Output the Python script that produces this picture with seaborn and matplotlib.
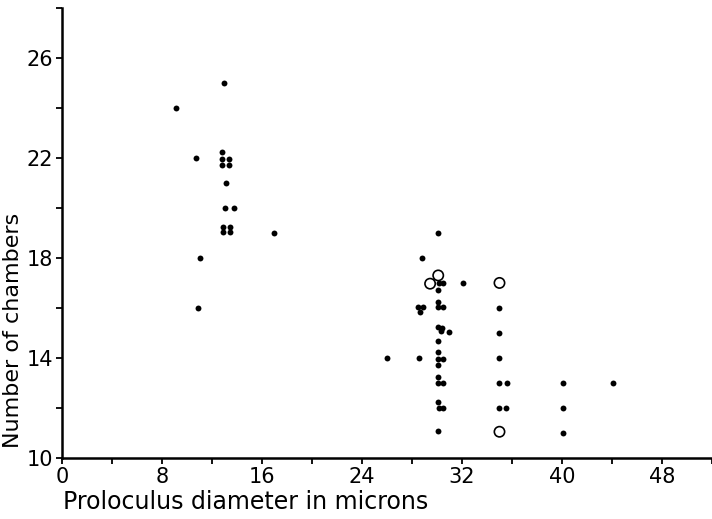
import matplotlib
matplotlib.use("Agg")
import matplotlib.pyplot as plt
import seaborn as sns
import pandas as pd
from matplotlib.ticker import MultipleLocator

# Proloculus diameter (microns) vs number of chambers
x_filled = [13.0, 9.1, 12.8, 12.8, 13.4, 12.8, 13.4, 10.7, 13.1, 13.05, 13.75,
            12.85, 13.45, 12.85, 13.45, 17.0, 11.05, 10.85,
            30.1, 28.8, 30.15, 30.5, 32.05, 30.1, 30.1, 30.1, 30.45,
            28.5, 28.85, 28.67,
            30.05, 30.4, 30.3, 31.0, 30.1, 30.1, 26.0, 28.6, 30.1, 30.5,
            30.1, 30.1, 30.1, 30.5, 30.1, 30.2, 30.5, 30.1,
            35.0, 35.0, 35.0, 35.0, 35.6, 35.0, 35.5, 40.1, 40.1, 40.1, 44.1]
y_filled = [25.0, 24.0, 22.25, 21.96, 21.96, 21.72, 21.72, 22.0, 21.0, 20.0, 20.0,
            19.23, 19.23, 19.05, 19.05, 19.0, 18.0, 16.0,
            19.0, 18.0, 17.0, 17.0, 17.0, 16.7, 16.23, 16.03, 16.03,
            16.03, 16.03, 15.83,
            15.23, 15.19, 15.07, 15.03, 14.67, 14.25, 14.0, 14.0, 13.97, 13.97,
            13.7, 13.24, 13.0, 13.0, 12.24, 12.0, 12.0, 11.1,
            16.0, 15.0, 14.0, 13.0, 13.0, 12.0, 12.0, 13.0, 12.0, 11.0, 13.0]

x_open = [30.1, 29.45, 35.0, 35.0]
y_open = [17.3, 16.97, 17.0, 11.05]

x_ticks = [0, 8, 16, 24, 32, 40, 48]
y_ticks = [10, 14, 18, 22, 26]

filled = pd.DataFrame({"diameter": x_filled, "chambers": y_filled})
hollow = pd.DataFrame({"diameter": x_open, "chambers": y_open})

sns.set_theme(style="ticks")
plt.rcParams["font.family"] = ["DejaVu Sans"]

fig = plt.figure(figsize=(7.12, 5.19), dpi=100)
ax = fig.add_axes([0.087, 0.1175, 0.913, 0.8675])

sns.scatterplot(data=filled, x="diameter", y="chambers", ax=ax,
                color="black", s=18, edgecolor="black", linewidth=0)
sns.scatterplot(data=hollow, x="diameter", y="chambers", ax=ax,
                facecolor="none", edgecolor="black", s=55, linewidth=1.2)

ax.set_xlim(0, 52)
ax.set_ylim(10, 28)
ax.set_xticks(x_ticks)
ax.set_yticks(y_ticks)
ax.xaxis.set_minor_locator(MultipleLocator(4))
ax.yaxis.set_minor_locator(MultipleLocator(2))
ax.tick_params(which="both", direction="out", length=4.5, width=1.3,
               color="black", labelsize=15, labelcolor="black")
ax.tick_params(axis="x", pad=2)
ax.tick_params(axis="y", pad=2)

sns.despine(ax=ax)
for side in ["left", "bottom"]:
    ax.spines[side].set_linewidth(1.8)
    ax.spines[side].set_color("black")

ax.set_xlabel("Proloculus diameter in microns", fontsize=17, color="black")
ax.set_ylabel("Number of chambers", fontsize=16, color="black")
ax.xaxis.set_label_coords(0.283, -0.072)
ax.yaxis.set_label_coords(-0.06, 0.284)

fig.savefig("out.png", dpi=100)
